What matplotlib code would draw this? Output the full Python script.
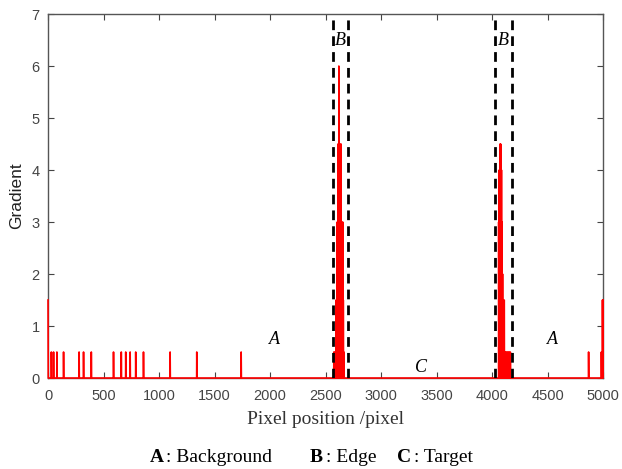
import numpy as np
import matplotlib
matplotlib.use("Agg")
import matplotlib.pyplot as plt

# ---- data ----
n_pixels = 5000
spike_pos = [0, 30, 50, 80, 140, 280, 320, 390, 590, 660, 700, 740, 790, 860,
             1100, 1340, 1740,
             2575, 2585, 2595, 2605, 2612, 2620, 2625, 2630, 2635, 2640, 2645, 2655, 2660, 2665,
             4060, 4065, 4072, 4078, 4085, 4090, 4095, 4100, 4110, 4115, 4125, 4135, 4145, 4155, 4165,
             4870, 4985, 4995, 5000]
spike_val = [1.5, 0.5, 0.5, 0.5, 0.5, 0.5, 0.5, 0.5, 0.5, 0.5, 0.5, 0.5, 0.5, 0.5,
             0.5, 0.5, 0.5,
             0.5, 0.5, 1.5, 3.0, 4.5, 6.0, 4.5, 4.5, 3.0, 4.5, 3.0, 3.0, 1.5, 0.5,
             3.0, 4.0, 4.5, 4.5, 4.0, 3.0, 2.0, 1.5, 1.5, 0.5, 0.5, 0.5, 0.5, 0.5, 0.5,
             0.5, 0.5, 1.5, 1.5]
edge_lines = [2565, 2705, 4025, 4180]
region_labels = ["A", "B", "C", "A", "B"]
region_x = [2040, 2635, 3360, 4545, 4105]
region_y = [0.75, 6.5, 0.2, 0.75, 6.5]

x = np.arange(n_pixels + 1)
y = np.zeros(n_pixels + 1)
for p, v in zip(spike_pos, spike_val):
    y[p] = v

fig = plt.figure(figsize=(6.22, 4.69), dpi=100)
ax = fig.add_axes([0.0772, 0.194, 0.8923, 0.776])

ax.plot(x, y, color="red", lw=1.2, zorder=3, clip_on=False)
for xv in edge_lines:
    ax.plot([xv, xv], [0, 7], color="black", lw=2.0, linestyle=(0, (3.5, 2.2)), zorder=4)

for lab, lx, ly in zip(region_labels, region_x, region_y):
    ax.text(lx, ly, lab, fontfamily="Liberation Serif", fontstyle="italic",
            fontsize=13, ha="center", va="center", color="black", zorder=5)

ax.set_xlim(0, 5000)
ax.set_ylim(0, 7)
ax.set_xticks(np.arange(0, 5001, 500))
ax.set_yticks(np.arange(0, 8, 1))
ax.tick_params(direction="in", top=True, right=True, length=4, width=0.8,
               colors="#444444", labelsize=10.5, labelcolor="#444444")
ax.tick_params(axis="x", pad=8)
ax.tick_params(axis="y", pad=6)
for lbl in ax.get_xticklabels() + ax.get_yticklabels():
    lbl.set_fontfamily("Liberation Sans")
for s in ax.spines.values():
    s.set_color("#555555")
    s.set_linewidth(1.0)

ax.set_ylabel("Gradient", fontfamily="Liberation Sans", fontsize=12.5, color="#222222", labelpad=5)
ax.set_xlabel("Pixel position /pixel", fontfamily="Liberation Serif", fontsize=14,
              color="#333333", labelpad=6)

leg_y = 7 / 469
fs = 14
fig.text(150 / 622, leg_y, "A", fontfamily="Liberation Serif", fontweight="bold", fontsize=fs, ha="left", va="baseline")
fig.text(166 / 622, leg_y, ": Background", fontfamily="Liberation Serif", fontsize=fs, ha="left", va="baseline")
fig.text(310 / 622, leg_y, "B", fontfamily="Liberation Serif", fontweight="bold", fontsize=fs, ha="left", va="baseline")
fig.text(326 / 622, leg_y, ": Edge", fontfamily="Liberation Serif", fontsize=fs, ha="left", va="baseline")
fig.text(397 / 622, leg_y, "C", fontfamily="Liberation Serif", fontweight="bold", fontsize=fs, ha="left", va="baseline")
fig.text(414 / 622, leg_y, ": Target", fontfamily="Liberation Serif", fontsize=fs, ha="left", va="baseline")

fig.savefig("out.png", dpi=100)
